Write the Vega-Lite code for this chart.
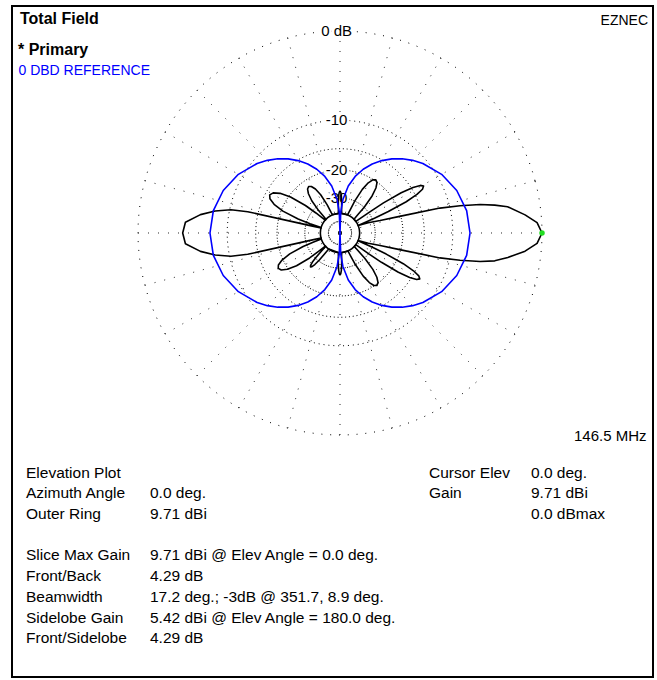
{
  "$schema": "https://vega.github.io/schema/vega-lite/v6.json",
  "width": 657,
  "height": 680,
  "autosize": {"type": "fit", "contains": "padding"},
  "padding": {"left": 12, "top": 6, "right": 4, "bottom": 3},
  "background": "white",
  "config": {"view": {"stroke": "#000", "strokeWidth": 2}, "text": {"font": "Liberation Sans", "fontSize": 15, "color": "#000"}},
  "datasets": {
    "rings": [
      {"db": 0, "az": [0, 15, 30, 45, 60, 75, 90, 105, 120, 135, 150, 165, 180, 195, 210, 225, 240, 255, 270, 285, 300, 315, 330, 345]},
      {"db": -10, "az": [0, 15, 30, 45, 60, 75, 90, 105, 120, 135, 150, 165, 180, 195, 210, 225, 240, 255, 270, 285, 300, 315, 330, 345]},
      {"db": -15, "az": [0, 15, 30, 45, 60, 75, 90, 105, 120, 135, 150, 165, 180, 195, 210, 225, 240, 255, 270, 285, 300, 315, 330, 345]},
      {"db": -20, "az": [0, 15, 30, 45, 60, 75, 90, 105, 120, 135, 150, 165, 180, 195, 210, 225, 240, 255, 270, 285, 300, 315, 330, 345]},
      {"db": -30, "az": [0, 15, 30, 45, 60, 75, 90, 105, 120, 135, 150, 165, 180, 195, 210, 225, 240, 255, 270, 285, 300, 315, 330, 345]},
      {"db": -49, "az": [0, 15, 30, 45, 60, 75, 90, 105, 120, 135, 150, 165, 180, 195, 210, 225, 240, 255, 270, 285, 300, 315, 330, 345]}
    ],
    "floor": [
      {"db": -40, "az": [0, 15, 30, 45, 60, 75, 90, 105, 120, 135, 150, 165, 180, 195, 210, 225, 240, 255, 270, 285, 300, 315, 330, 345]}
    ],
    "black": [
      {"el": 0, "db": 0}, {"el": 3, "db": -0.4}, {"el": 5.6, "db": -1.42}, {"el": 8.9, "db": -3.0}, {"el": 10.2, "db": -4.3}, {"el": 11.5, "db": -5.93}, {"el": 12.8, "db": -8.5}, {"el": 14, "db": -11.56}, {"el": 15.6, "db": -20.3}, {"el": 17.2, "db": -26.95}, {"el": 20, "db": -32.7}, {"el": 22.6, "db": -40},
      {"el": 23.27, "db": -28.9}, {"el": 23.94, "db": -23.0}, {"el": 25.28, "db": -17.41}, {"el": 26.62, "db": -14.64}, {"el": 27.96, "db": -13.24}, {"el": 29.3, "db": -12.8}, {"el": 30.64, "db": -13.24}, {"el": 31.98, "db": -14.64}, {"el": 33.32, "db": -17.41}, {"el": 34.66, "db": -23.0}, {"el": 35.33, "db": -28.9}, {"el": 36, "db": -40},
      {"el": 44.5, "db": -40}, {"el": 45.65, "db": -35.8}, {"el": 46.8, "db": -29.9}, {"el": 49.1, "db": -24.31}, {"el": 51.4, "db": -21.54}, {"el": 53.7, "db": -20.14}, {"el": 56, "db": -19.7}, {"el": 58.3, "db": -20.14}, {"el": 60.6, "db": -21.54}, {"el": 62.9, "db": -24.31}, {"el": 65.2, "db": -29.9}, {"el": 66.35, "db": -35.8}, {"el": 67.5, "db": -40},
      {"el": 85, "db": -40}, {"el": 86, "db": -37.2}, {"el": 87, "db": -31.6}, {"el": 88, "db": -28.84}, {"el": 89, "db": -27.44}, {"el": 90, "db": -27}, {"el": 91, "db": -27.44}, {"el": 92, "db": -28.84}, {"el": 93, "db": -31.6}, {"el": 94, "db": -37.2}, {"el": 95, "db": -40},
      {"el": 112, "db": -40}, {"el": 113.2, "db": -38.1}, {"el": 114.4, "db": -32.2}, {"el": 116.8, "db": -26.61}, {"el": 119.2, "db": -23.84}, {"el": 121.6, "db": -22.44}, {"el": 124, "db": -22}, {"el": 126.4, "db": -22.44}, {"el": 128.8, "db": -23.84}, {"el": 131.2, "db": -26.61}, {"el": 133.6, "db": -32.2}, {"el": 134.8, "db": -38.1}, {"el": 136, "db": -40},
      {"el": 139, "db": -40}, {"el": 140.25, "db": -32.0}, {"el": 141.5, "db": -26.1}, {"el": 144, "db": -20.51}, {"el": 146.5, "db": -17.74}, {"el": 149, "db": -16.34}, {"el": 151.5, "db": -15.9}, {"el": 154, "db": -16.34}, {"el": 156.5, "db": -17.74}, {"el": 159, "db": -20.51}, {"el": 161.5, "db": -26.1}, {"el": 162.75, "db": -32.0}, {"el": 164, "db": -40},
      {"el": 165.5, "db": -40}, {"el": 166, "db": -33}, {"el": 166.5, "db": -26}, {"el": 167, "db": -13}, {"el": 168, "db": -10.2}, {"el": 170, "db": -8.0}, {"el": 172.5, "db": -6.2}, {"el": 176, "db": -4.55}, {"el": 180, "db": -4.29}, {"el": 184, "db": -4.55}, {"el": 187.5, "db": -6.2}, {"el": 190, "db": -8.0}, {"el": 192, "db": -10.2}, {"el": 193, "db": -13}, {"el": 193.5, "db": -26}, {"el": 194, "db": -33}, {"el": 194.5, "db": -40},
      {"el": 197.8, "db": -40}, {"el": 199, "db": -34.0}, {"el": 200.2, "db": -28.1}, {"el": 202.6, "db": -22.51}, {"el": 205, "db": -19.74}, {"el": 207.4, "db": -18.34}, {"el": 209.8, "db": -17.9}, {"el": 212.2, "db": -18.34}, {"el": 214.6, "db": -19.74}, {"el": 217, "db": -22.51}, {"el": 219.4, "db": -28.1}, {"el": 220.6, "db": -34.0}, {"el": 221.8, "db": -40},
      {"el": 223, "db": -40}, {"el": 224.2, "db": -36.0}, {"el": 225.4, "db": -30.41}, {"el": 226.6, "db": -27.64}, {"el": 227.8, "db": -26.24}, {"el": 229, "db": -25.8}, {"el": 230.2, "db": -26.24}, {"el": 231.4, "db": -27.64}, {"el": 232.6, "db": -30.41}, {"el": 233.8, "db": -36.0}, {"el": 235, "db": -40},
      {"el": 265, "db": -40}, {"el": 266, "db": -37.2}, {"el": 267, "db": -31.6}, {"el": 268, "db": -28.84}, {"el": 269, "db": -27.44}, {"el": 270, "db": -27}, {"el": 271, "db": -27.44}, {"el": 272, "db": -28.84}, {"el": 273, "db": -31.6}, {"el": 274, "db": -37.2}, {"el": 275, "db": -40},
      {"el": 293.7, "db": -40}, {"el": 294.85, "db": -35.8}, {"el": 296, "db": -29.9}, {"el": 298.3, "db": -24.31}, {"el": 300.6, "db": -21.54}, {"el": 302.9, "db": -20.14}, {"el": 305.2, "db": -19.7}, {"el": 307.5, "db": -20.14}, {"el": 309.8, "db": -21.54}, {"el": 312.1, "db": -24.31}, {"el": 314.4, "db": -29.9}, {"el": 315.55, "db": -35.8}, {"el": 316.7, "db": -40},
      {"el": 323.4, "db": -40}, {"el": 324.07, "db": -29.6}, {"el": 324.74, "db": -23.7}, {"el": 326.08, "db": -18.11}, {"el": 327.42, "db": -15.34}, {"el": 328.76, "db": -13.94}, {"el": 330.1, "db": -13.5}, {"el": 331.44, "db": -13.94}, {"el": 332.78, "db": -15.34}, {"el": 334.12, "db": -18.11}, {"el": 335.46, "db": -23.7}, {"el": 336.13, "db": -29.6}, {"el": 336.8, "db": -40},
      {"el": 337.4, "db": -40}, {"el": 340, "db": -32.7}, {"el": 342.8, "db": -26.95}, {"el": 344.4, "db": -20.3}, {"el": 346, "db": -11.56}, {"el": 347.2, "db": -8.5}, {"el": 348.5, "db": -5.93}, {"el": 349.8, "db": -4.3}, {"el": 351.7, "db": -3.0}, {"el": 354.4, "db": -1.42}, {"el": 357, "db": -0.4}, {"el": 360, "db": 0}
    ],
    "blue": [
      {"el": 0, "db": -7.56}, {"el": 10, "db": -7.75}, {"el": 20, "db": -8.34}, {"el": 30, "db": -9.32}, {"el": 40, "db": -10.72}, {"el": 45, "db": -11.6}, {"el": 50, "db": -12.62}, {"el": 55, "db": -13.79}, {"el": 60, "db": -15.14}, {"el": 65, "db": -16.74}, {"el": 70, "db": -18.72}, {"el": 75, "db": -21.25}, {"el": 80, "db": -24.79}, {"el": 85, "db": -30.81}, {"el": 88, "db": -38.79}, {"el": 90, "db": -200},
      {"el": 92, "db": -38.79}, {"el": 95, "db": -30.81}, {"el": 100, "db": -24.79}, {"el": 105, "db": -21.25}, {"el": 110, "db": -18.72}, {"el": 115, "db": -16.74}, {"el": 120, "db": -15.14}, {"el": 125, "db": -13.79}, {"el": 130, "db": -12.62}, {"el": 135, "db": -11.6}, {"el": 140, "db": -10.72}, {"el": 150, "db": -9.32}, {"el": 160, "db": -8.34}, {"el": 170, "db": -7.75}, {"el": 180, "db": -7.56},
      {"el": 190, "db": -7.75}, {"el": 200, "db": -8.34}, {"el": 210, "db": -9.32}, {"el": 220, "db": -10.72}, {"el": 225, "db": -11.6}, {"el": 230, "db": -12.62}, {"el": 235, "db": -13.79}, {"el": 240, "db": -15.14}, {"el": 245, "db": -16.74}, {"el": 250, "db": -18.72}, {"el": 255, "db": -21.25}, {"el": 260, "db": -24.79}, {"el": 265, "db": -30.81}, {"el": 268, "db": -38.79}, {"el": 270, "db": -200},
      {"el": 272, "db": -38.79}, {"el": 275, "db": -30.81}, {"el": 280, "db": -24.79}, {"el": 285, "db": -21.25}, {"el": 290, "db": -18.72}, {"el": 295, "db": -16.74}, {"el": 300, "db": -15.14}, {"el": 305, "db": -13.79}, {"el": 310, "db": -12.62}, {"el": 315, "db": -11.6}, {"el": 320, "db": -10.72}, {"el": 330, "db": -9.32}, {"el": 340, "db": -8.34}, {"el": 350, "db": -7.75}, {"el": 360, "db": -7.56}
    ]
  },
  "resolve": {"scale": {"y": "independent"}},
  "layer": [
    {
      "layer": [
        {
          "data": {"name": "rings"},
          "transform": [
            {"flatten": ["az"]},
            {"calculate": "pow(0.89, -datum.db/2)", "as": "r"},
            {"calculate": "datum.r*cos(datum.az*PI/180)", "as": "px"},
            {"calculate": "datum.r*sin(datum.az*PI/180)", "as": "py"}
          ],
          "mark": {"type": "line", "color": "#000", "strokeWidth": 1, "interpolate": "cardinal-closed"},
          "encoding": {
            "x": {"field": "px", "type": "quantitative", "scale": {"domain": [-1.62376, 1.5495], "nice": false, "zero": false}, "axis": null},
            "y": {"field": "py", "type": "quantitative", "scale": {"domain": [-2.19802, 1.12376], "nice": false, "zero": false}, "axis": null},
            "detail": {"field": "db", "type": "nominal"},
            "order": {"field": "az", "type": "quantitative"},
            "strokeDash": {"field": "db", "type": "nominal", "scale": {"domain": [0, -10, -15, -20, -30, -49], "range": [[1, 7.8], [1, 3.9], [1, 2.8], [1, 2], [1, 1.4], [1, 1.2]]}, "legend": null}
          }
        },
        {
          "data": {"values": [{"az": 0}, {"az": 15}, {"az": 30}, {"az": 45}, {"az": 60}, {"az": 75}, {"az": 90}, {"az": 105}, {"az": 120}, {"az": 135}, {"az": 150}, {"az": 165}, {"az": 180}, {"az": 195}, {"az": 210}, {"az": 225}, {"az": 240}, {"az": 255}, {"az": 270}, {"az": 285}, {"az": 300}, {"az": 315}, {"az": 330}, {"az": 345}]},
          "transform": [
            {"calculate": "cos(datum.az*PI/180)", "as": "cx"},
            {"calculate": "sin(datum.az*PI/180)", "as": "cy"}
          ],
          "mark": {"type": "rule", "color": "#000", "strokeWidth": 1, "strokeDash": [1, 9], "opacity": 0.85},
          "encoding": {
            "x": {"field": "cx", "type": "quantitative"},
            "y": {"field": "cy", "type": "quantitative"},
            "x2": {"datum": 0},
            "y2": {"datum": 0}
          }
        },
        {
          "data": {"name": "floor"},
          "transform": [
            {"flatten": ["az"]},
            {"calculate": "pow(0.89, -datum.db/2)", "as": "r"},
            {"calculate": "datum.r*cos(datum.az*PI/180)", "as": "px"},
            {"calculate": "datum.r*sin(datum.az*PI/180)", "as": "py"}
          ],
          "mark": {"type": "line", "color": "#000", "strokeWidth": 1.6, "interpolate": "cardinal-closed"},
          "encoding": {
            "x": {"field": "px", "type": "quantitative"},
            "y": {"field": "py", "type": "quantitative"},
            "order": {"field": "az", "type": "quantitative"}
          }
        },
        {
          "data": {"values": [{"db": 0, "t": "0 dB"}, {"db": -10, "t": "-10"}, {"db": -20, "t": "-20"}, {"db": -30, "t": "-30"}]},
          "transform": [{"calculate": "pow(0.89, -datum.db/2)", "as": "r"}],
          "layer": [
            {
              "mark": {"type": "text", "fontSize": 15, "baseline": "middle", "align": "center", "stroke": "white", "strokeWidth": 5, "fill": "white"},
              "encoding": {"x": {"datum": -0.017, "type": "quantitative"}, "y": {"field": "r", "type": "quantitative"}, "text": {"field": "t"}}
            },
            {
              "mark": {"type": "text", "fontSize": 15, "baseline": "middle", "align": "center", "color": "#000"},
              "encoding": {"x": {"datum": -0.017, "type": "quantitative"}, "y": {"field": "r", "type": "quantitative"}, "text": {"field": "t"}}
            }
          ]
        },
        {
          "data": {"name": "black"},
          "transform": [
            {"calculate": "pow(0.89, -datum.db/2)", "as": "r"},
            {"calculate": "datum.r*cos(datum.el*PI/180)", "as": "px"},
            {"calculate": "datum.r*sin(datum.el*PI/180)", "as": "py"}
          ],
          "mark": {"type": "line", "color": "#000", "strokeWidth": 1.6, "strokeJoin": "round"},
          "encoding": {
            "x": {"field": "px", "type": "quantitative"},
            "y": {"field": "py", "type": "quantitative"},
            "order": {"field": "el", "type": "quantitative"}
          }
        },
        {
          "data": {"name": "blue"},
          "transform": [
            {"calculate": "pow(0.89, -datum.db/2)", "as": "r"},
            {"calculate": "datum.r*cos(datum.el*PI/180)", "as": "px"},
            {"calculate": "datum.r*sin(datum.el*PI/180)", "as": "py"}
          ],
          "mark": {"type": "line", "color": "#0000ff", "strokeWidth": 1.6, "strokeJoin": "round"},
          "encoding": {
            "x": {"field": "px", "type": "quantitative"},
            "y": {"field": "py", "type": "quantitative"},
            "order": {"field": "el", "type": "quantitative"}
          }
        },
        {
          "data": {"values": [{"el": 0, "db": 0}]},
          "transform": [
            {"calculate": "pow(0.89, -datum.db/2)", "as": "r"},
            {"calculate": "datum.r*cos(datum.el*PI/180)", "as": "px"},
            {"calculate": "datum.r*sin(datum.el*PI/180)", "as": "py"}
          ],
          "mark": {"type": "point", "filled": true, "color": "#22dd22", "size": 30, "opacity": 1},
          "encoding": {
            "x": {"field": "px", "type": "quantitative"},
            "y": {"field": "py", "type": "quantitative"}
          }
        },
        {
          "data": {"values": [{"t": "Total Field"}]},
          "mark": {"type": "text", "fontSize": 16, "fontWeight": "bold", "align": "left", "baseline": "alphabetic"},
          "encoding": {"x": {"datum": -1.58416, "type": "quantitative"}, "y": {"datum": 1.03465, "type": "quantitative"}, "text": {"field": "t"}}
        },
        {
          "data": {"values": [{"t": "* Primary"}]},
          "mark": {"type": "text", "fontSize": 16, "fontWeight": "bold", "align": "left", "baseline": "alphabetic"},
          "encoding": {"x": {"datum": -1.59406, "type": "quantitative"}, "y": {"datum": 0.88119, "type": "quantitative"}, "text": {"field": "t"}}
        },
        {
          "data": {"values": [{"t": "0 DBD REFERENCE"}]},
          "mark": {"type": "text", "fontSize": 14, "align": "left", "baseline": "alphabetic", "color": "#0000ff"},
          "encoding": {"x": {"datum": -1.5916, "type": "quantitative"}, "y": {"datum": 0.78218, "type": "quantitative"}, "text": {"field": "t"}}
        },
        {
          "data": {"values": [{"t": "EZNEC"}]},
          "mark": {"type": "text", "fontSize": 14, "align": "right", "baseline": "alphabetic"},
          "encoding": {"x": {"datum": 1.52475, "type": "quantitative"}, "y": {"datum": 1.0297, "type": "quantitative"}, "text": {"field": "t"}}
        },
        {
          "data": {"values": [{"t": "146.5 MHz"}]},
          "mark": {"type": "text", "fontSize": 15, "align": "right", "baseline": "alphabetic"},
          "encoding": {"x": {"datum": 1.51733, "type": "quantitative"}, "y": {"datum": -1.02822, "type": "quantitative"}, "text": {"field": "t"}}
        }
      ]
    },
    {
      "layer": [
        {
          "data": {"values": [{"line": 1, "t": "Elevation Plot"}, {"line": 2, "t": "Azimuth Angle"}, {"line": 3, "t": "Outer Ring"}, {"line": 5, "t": "Slice Max Gain"}, {"line": 6, "t": "Front/Back"}, {"line": 7, "t": "Beamwidth"}, {"line": 8, "t": "Sidelobe Gain"}, {"line": 9, "t": "Front/Sidelobe"}]},
          "mark": {"type": "text", "fontSize": 15.5, "align": "left", "baseline": "alphabetic"},
          "encoding": {
            "x": {"datum": -1.55446, "type": "quantitative"},
            "y": {"field": "line", "type": "quantitative", "scale": {"domain": [-21.787, 10.628], "reverse": true, "nice": false, "zero": false}, "axis": null},
            "text": {"field": "t"}
          }
        },
        {
          "data": {"values": [{"line": 2, "t": "0.0 deg."}, {"line": 3, "t": "9.71 dBi"}, {"line": 5, "t": "9.71 dBi @ Elev Angle = 0.0 deg."}, {"line": 6, "t": "4.29 dB"}, {"line": 7, "t": "17.2 deg.; -3dB @ 351.7, 8.9 deg."}, {"line": 8, "t": "5.42 dBi @ Elev Angle = 180.0 deg."}, {"line": 9, "t": "4.29 dB"}]},
          "mark": {"type": "text", "fontSize": 15.5, "align": "left", "baseline": "alphabetic"},
          "encoding": {
            "x": {"datum": -0.94059, "type": "quantitative"},
            "y": {"field": "line", "type": "quantitative"},
            "text": {"field": "t"}
          }
        },
        {
          "data": {"values": [{"line": 1, "t": "Cursor Elev"}, {"line": 2, "t": "Gain"}]},
          "mark": {"type": "text", "fontSize": 15.5, "align": "left", "baseline": "alphabetic"},
          "encoding": {
            "x": {"datum": 0.44059, "type": "quantitative"},
            "y": {"field": "line", "type": "quantitative"},
            "text": {"field": "t"}
          }
        },
        {
          "data": {"values": [{"line": 1, "t": "0.0 deg."}, {"line": 2, "t": "9.71 dBi"}, {"line": 3, "t": "0.0 dBmax"}]},
          "mark": {"type": "text", "fontSize": 15.5, "align": "left", "baseline": "alphabetic"},
          "encoding": {
            "x": {"datum": 0.94554, "type": "quantitative"},
            "y": {"field": "line", "type": "quantitative"},
            "text": {"field": "t"}
          }
        }
      ]
    }
  ]
}
